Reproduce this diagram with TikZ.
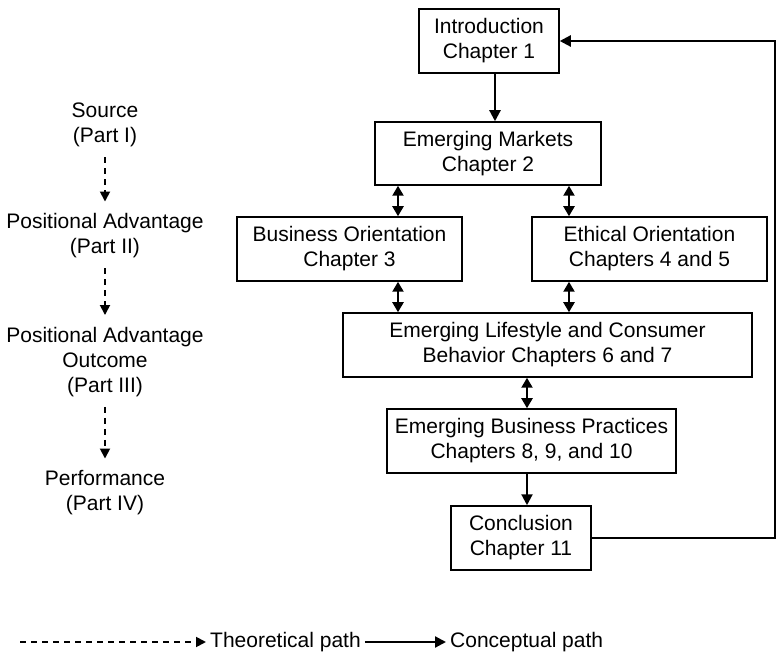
\documentclass[tikz,border=0pt]{standalone}
\usepackage{fontspec}
\setmainfont{Liberation Sans}
\usetikzlibrary{arrows.meta}

\begin{document}
\begin{tikzpicture}[x = 1pt, y = -1pt,
        every node/.style = {font = \fontsize{21}{25}\selectfont, align = center, inner sep = 0pt},
        box/.style = {draw, line width = 1.5pt, minimum height = 64pt},
        conn/.style = {line width = 2.2pt, -{Triangle[length = 11pt, width = 11pt]}},
        dbl/.style = {line width = 2.2pt, {Triangle[length = 10pt, width = 11pt]}-{Triangle[length = 10pt, width = 11pt]}},
        theo/.style = {line width = 1.8pt, dash pattern = on 6pt off 5pt, -{Triangle[length = 10pt, width = 10pt]}},
        part/.style = {shorten < = 10pt, shorten > = 12pt}]
    \useasboundingbox (0, 0) rectangle (777, 652);
    % chapters
    \node [box, minimum width = 140pt] (intro) at (489, 41) {Introduction\\Chapter 1};
    \node [box, minimum width = 226pt, minimum height = 63pt] (markets) at (488, 153.5) {Emerging Markets\\Chapter 2};
    \node [box, minimum width = 225pt] (business) at (349.5, 249) {Business Orientation\\Chapter 3};
    \node [box, minimum width = 235pt] (ethical) at (649.5, 249) {Ethical Orientation\\Chapters 4 and 5};
    \node [box, minimum width = 409pt] (lifestyle) at (547.5, 345) {Emerging Lifestyle and Consumer\\Behavior Chapters 6 and 7};
    \node [box, minimum width = 289pt] (practices) at (531.5, 441) {Emerging Business Practices\\Chapters 8, 9, and 10};
    \node [box, minimum width = 140pt] (conclusion) at (521, 538) {Conclusion\\Chapter 11};
    \coordinate (coldown) at (495, 0);
    \coordinate (colleft) at (398, 0);
    \coordinate (colright) at (569, 0);
    \coordinate (colmid) at (527, 0);
    \coordinate (loop) at (775, 0);
    \draw [conn] (intro.south -| coldown) -- (markets.north -| coldown);
    \draw [dbl] (markets.south -| colleft) -- (business.north -| colleft);
    \draw [dbl] (markets.south -| colright) -- (ethical.north -| colright);
    \draw [dbl] (business.south -| colleft) -- (lifestyle.north -| colleft);
    \draw [dbl] (ethical.south -| colright) -- (lifestyle.north -| colright);
    \draw [dbl] (lifestyle.south -| colmid) -- (practices.north -| colmid);
    \draw [conn] (practices.south -| colmid) -- (conclusion.north -| colmid);
    \draw [conn] (conclusion.east) -- (conclusion.east -| loop) -- (intro.east -| loop) -- (intro.east);
    % parts
    \node (source) at (105, 125) {Source\\(Part I)};
    \node (advantage) at (105, 236) {Positional Advantage\\(Part II)};
    \node (outcome) at (105, 362) {Positional Advantage\\Outcome\\(Part III)};
    \node (performance) at (105, 493) {Performance\\(Part IV)};
    \draw [theo, part] (source) -- (advantage);
    \draw [theo, part] (advantage) -- (outcome);
    \draw [theo, part] (outcome) -- (performance);
    % legend
    \coordinate (legstart) at (20, 642);
    \node [anchor = west, inner sep = 4pt] (theolabel) at (206, 642) {Theoretical path};
    \node [anchor = west, inner sep = 4pt] (conclabel) at (446, 642) {Conceptual path};
    \draw [theo] (legstart) -- (theolabel.west);
    \draw [conn] (theolabel.east) -- (conclabel.west);
\end{tikzpicture}
\end{document}
